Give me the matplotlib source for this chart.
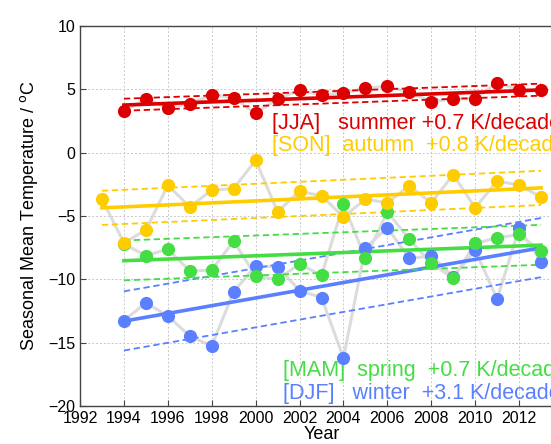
import numpy as np
import matplotlib
matplotlib.use("Agg")
import matplotlib.pyplot as plt

plt.rcParams['font.family'] = ['Liberation Sans', 'DejaVu Sans']

# ---- data ----
years_jja = list(range(1994, 2014))
jja = [3.29, 4.24, 3.55, 3.87, 4.55, 4.34, 3.11, 4.24, 4.95, 4.55,
       4.74, 5.08, 5.26, 4.76, 4.03, 4.24, 4.26, 5.53, 4.95, 4.97]

years_son = list(range(1993, 2014))
son = [-3.67, -7.11, -6.12, -2.57, -4.28, -2.97, -2.83, -0.60, -4.67, -3.04,
       -3.41, -5.07, -3.67, -3.96, -2.62, -3.96, -1.73, -4.36, -2.23, -2.57, -3.49]

years_mam = list(range(1994, 2014))
mam = [-7.2, -8.14, -7.61, -9.34, -9.27, -6.98, -9.74, -10.0, -8.79, -9.69,
       -4.07, -8.35, -4.67, -6.85, -8.74, -9.9, -7.17, -6.72, -6.46, -7.77]

years_djf = list(range(1994, 2014))
djf = [-13.26, -11.85, -12.89, -14.47, -15.26, -10.97, -8.95, -9.0, -10.89, -11.44,
       -16.19, -7.51, -5.93, -8.35, -8.16, -9.79, -7.69, -11.55, -5.98, -8.61]

# trend lines: [start year, end year], [start value, end value], band offsets (upper, lower)
trend_jja = ([1994, 2013], [3.76, 4.95], (0.5, -0.45))
trend_son = ([1993, 2013], [-4.36, -2.78], (1.35, -1.35))
trend_mam = ([1994, 2013], [-8.53, -7.30], (1.6, -1.55))
trend_djf = ([1994, 2013], [-13.3, -7.51], (2.35, -2.32))

labels = {
    'jja': "[JJA]   summer +0.7 K/decade",
    'son': "[SON]  autumn  +0.8 K/decade",
    'mam': "[MAM]  spring  +0.7 K/decade",
    'djf': "[DJF]   winter  +3.1 K/decade",
}

xticks = list(range(1992, 2014, 2))
yticks = [-20, -15, -10, -5, 0, 5, 10]

c_red = '#dd0000'
c_yel = '#ffcc00'
c_grn = '#44dd44'
c_blu = '#5a80ff'

# ---- figure ----
W, H = 551, 444
fig = plt.figure(figsize=(W / 100, H / 100), dpi=100)
ax = fig.add_axes([80 / W, 1 - 406 / H, (563 - 80) / W, (406 - 26) / H])

ax.set_xlim(1992, 2014)
ax.set_ylim(-20, 10)
ax.set_xticks(xticks)
ax.set_yticks(yticks)
ax.grid(True, color='#c8c8c8', linestyle=(0, (2, 2)), linewidth=0.7)
ax.tick_params(direction='in', length=4, width=0.8, color='#444444', labelsize=11.5,
               top=False, right=False)
for s in ax.spines.values():
    s.set_color('#444444')
    s.set_linewidth(1.0)

series = [
    (years_djf, djf, c_blu, trend_djf),
    (years_mam, mam, c_grn, trend_mam),
    (years_son, son, c_yel, trend_son),
    (years_jja, jja, c_red, trend_jja),
]

# gray connecting lines under everything
for yrs, vals, col, tr in series:
    ax.plot(yrs, vals, color='#dcdcdc', lw=2.2, zorder=1, solid_joinstyle='round')

for yrs, vals, col, tr in series:
    tx, tv, (up, lo) = tr
    ax.plot(tx, tv, color=col, lw=2.6, zorder=3)
    ax.plot(tx, [v + up for v in tv], color=col, lw=1.3, ls=(0, (3.5, 2)), zorder=3)
    ax.plot(tx, [v + lo for v in tv], color=col, lw=1.3, ls=(0, (3.5, 2)), zorder=3)
    ax.plot(yrs, vals, 'o', color=col, ms=9.5, mec='none', zorder=4)

fs = 15.5
ax.text(272 / W, 1 - 123 / H, labels['jja'], color=c_red, fontsize=fs,
        transform=fig.transFigure, va='center', ha='left')
ax.text(272 / W, 1 - 145 / H, labels['son'], color=c_yel, fontsize=fs,
        transform=fig.transFigure, va='center', ha='left')
ax.text(283 / W, 1 - 370 / H, labels['mam'], color=c_grn, fontsize=fs,
        transform=fig.transFigure, va='center', ha='left')
ax.text(283 / W, 1 - 393 / H, labels['djf'], color=c_blu, fontsize=fs,
        transform=fig.transFigure, va='center', ha='left')

ax.set_xlabel('Year', fontsize=13, labelpad=0)
ax.set_ylabel('Seasonal Mean Temperature / $^{\\rm o}$C', fontsize=13, labelpad=6)

fig.savefig('out.png', dpi=100)
